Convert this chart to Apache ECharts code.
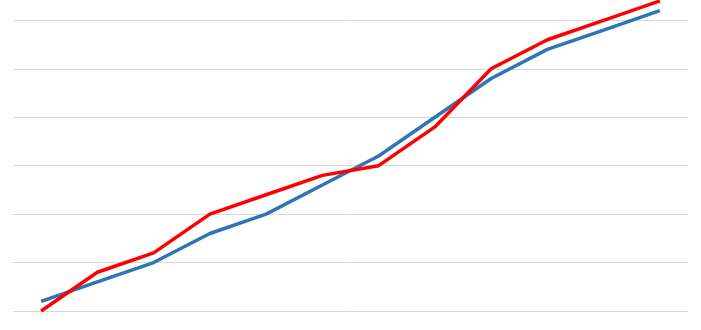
<!DOCTYPE html>
<html>
<head>
<meta charset="utf-8">
<script src="https://cdn.jsdelivr.net/npm/echarts@6/dist/echarts.min.js"></script>
<style>
html,body{margin:0;padding:0;background:#fff;}
#c{width:701px;height:330px;}
</style>
</head>
<body>
<div id="c"></div>
<script>
var categories = ['1','2','3','4','5','6','7','8','9','10','11','12'];
var blueValues = [2, 6, 10, 16, 20, 26, 32, 40, 48, 54, 58, 62];
var redValues = [0, 8, 12, 20, 24, 28, 30, 38, 50, 56, 60, 64];

var chart = echarts.init(document.getElementById('c'), null, {renderer: 'canvas'});
chart.setOption({
  animation: false,
  backgroundColor: '#ffffff',
  grid: {left: 13, right: 13, top: 0, bottom: 19, containLabel: false},
  xAxis: {
    type: 'category',
    data: categories,
    boundaryGap: true,
    axisLine: {show: false},
    axisTick: {show: false},
    axisLabel: {show: false}
  },
  yAxis: {
    type: 'value',
    min: 0,
    max: 64.2,
    interval: 10,
    axisLine: {show: false},
    axisTick: {show: false},
    axisLabel: {show: false},
    splitLine: {show: true, showMaxLine: false, lineStyle: {color: '#d9d9d9', width: 1}}
  },
  series: [
    {
      type: 'line',
      data: blueValues,
      symbol: 'none',
      clip: false,
      lineStyle: {color: '#2E75B6', width: 3.5, join: 'round'},
      itemStyle: {color: '#2E75B6'}
    },
    {
      type: 'line',
      data: redValues,
      symbol: 'none',
      clip: false,
      lineStyle: {color: '#FF0000', width: 3.5, join: 'round'},
      itemStyle: {color: '#FF0000'}
    }
  ]
});
</script>
</body>
</html>
